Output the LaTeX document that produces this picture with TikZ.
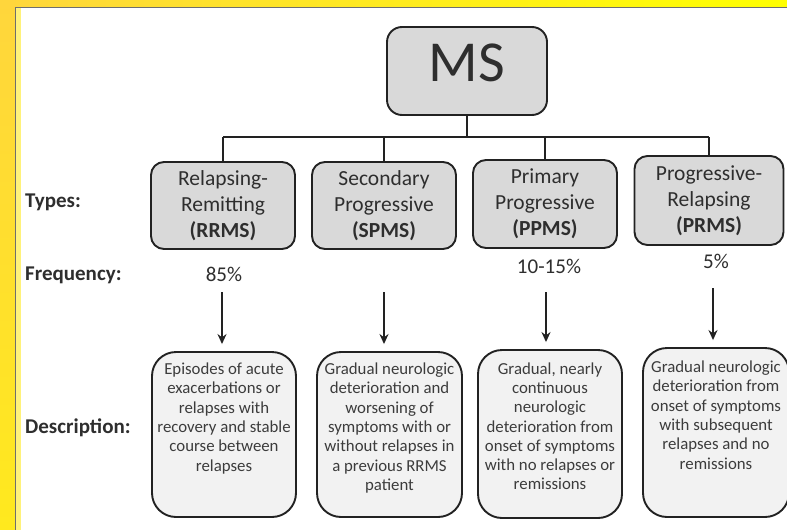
\documentclass[tikz,border=0pt]{standalone}
\usepackage{fontspec}
\setmainfont{Carlito}
\usetikzlibrary{arrows.meta}
\definecolor{typefill}{HTML}{D9D9D9}
\definecolor{descfill}{HTML}{F2F2F2}
\definecolor{edgec}{HTML}{222222}
\definecolor{textc}{HTML}{2E2E2E}
\definecolor{desctc}{HTML}{3C3C3C}
\definecolor{ylA}{HTML}{FFD63C}
\definecolor{ylB}{HTML}{FFFF00}
\definecolor{ylC}{HTML}{FFE91E}
\definecolor{ylL}{HTML}{FFF27A}
\definecolor{frameg}{HTML}{6E6E6E}
\tikzset{
  typebox/.style={draw=edgec, line width=1.9pt, fill=typefill, rounded corners=13pt,
    minimum width=144pt, minimum height=87pt, inner sep=0pt, align=center,
    text=textc, font=\fontsize{21.5}{26}\selectfont},
  msbox/.style={draw=edgec, line width=1.9pt, fill=typefill, rounded corners=15pt,
    minimum width=160pt, minimum height=88pt, inner sep=0pt, text=textc,
    font=\fontsize{58}{60}\selectfont, text depth=16pt},
  descbox/.style={draw=edgec, line width=1.9pt, fill=descfill, rounded corners=24pt,
    minimum height=165pt, inner sep=0pt, text=desctc},
  rowlabel/.style={anchor=base west, inner sep=0pt, text=textc,
    font=\fontsize{21}{26}\selectfont\bfseries},
  freq/.style={inner sep=0pt, text=textc, font=\fontsize{21}{26}\selectfont},
  link/.style={draw=edgec, line width=1.9pt},
  arr/.style={draw=edgec, line width=1.9pt, -{Stealth[length=10pt,width=9pt]}, shorten >=7pt}
}
\newcommand{\desctext}[1]{\parbox[c][143pt][t]{142pt}{\centering\fontsize{16.8}{19.3}\selectfont #1}}
\begin{document}
\begin{tikzpicture}[x=1pt,y=-1pt]
\useasboundingbox (0,0) rectangle (787,530);
% frame
\fill[white] (0,0) rectangle (787,530);
\shade[left color=ylA, right color=ylB] (0,0) rectangle (787,7.5);
\shade[top color=ylA, bottom color=ylC] (0,0) rectangle (15,530);
\fill[ylL] (16.3,8.3) rectangle (21,530);
\draw[frameg, line width=1.3pt] (15.6,530) -- (15.6,7.6) -- (787,7.6);

% top node
\node[msbox] (ms) at (467,71) {MS};

% type boxes
\node[typebox] (rrms) at (223,205.5) {Relapsing-\\Remitting\\\textbf{(RRMS)}};
\node[typebox] (spms) at (384,205.5) {Secondary\\Progressive\\\textbf{(SPMS)}};
\node[typebox, minimum height=88pt] (ppms) at (545,204) {Primary\\Progressive\\\textbf{(PPMS)}};
\node[typebox, minimum width=149pt, minimum height=89pt] (prms) at (709,200.5) {Progressive-\\Relapsing\\\textbf{(PRMS)}};

% tree connectors
\coordinate (bus) at (467,137);
\draw[link] (ms.south) -- (bus);
\draw[link] (rrms.north |- bus) -- (prms.north |- bus);
\foreach \n in {rrms,spms,ppms,prms}{
  \draw[link] (\n.north |- bus) -- (\n.north);
}

% row labels
\node[rowlabel] (ltypes) at (25,207) {Types:};
\node[rowlabel] (lfreq) at (25,280) {Frequency:};
\node[rowlabel] (ldesc) at (25,433) {Description:};

% frequencies
\node[freq] (f1) at (224,274) {85\%};
\node[freq] (f3) at (549,266) {10-15\%};
\node[freq] (f4) at (716,261) {5\%};

% description boxes
\node[descbox, minimum width=144pt] (d1) at (224,434.5) {\desctext{Episodes of acute\\exacerbations or\\relapses with\\recovery and stable\\course between\\relapses}};
\node[descbox, minimum width=145pt] (d2) at (389.5,434.5) {\desctext{Gradual neurologic\\deterioration and\\worsening of\\symptoms with or\\without relapses in\\a previous RRMS\\patient}};
\node[descbox, minimum width=144pt, minimum height=168pt] (d3) at (550,434) {\desctext{Gradual, nearly\\continuous\\neurologic\\deterioration from\\onset of symptoms\\with no relapses or\\remissions}};
\node[descbox, minimum width=146pt, minimum height=169pt] (d4) at (716,432.5) {\desctext{Gradual neurologic\\deterioration from\\onset of symptoms\\with subsequent\\relapses and no\\remissions}};

% arrows
\coordinate (a1) at (222,292);
\coordinate (a2) at (384,292);
\coordinate (a3) at (546,292);
\coordinate (a4) at (713,288);
\draw[arr] (a1) -- (a1 |- d1.north);
\draw[arr] (a2) -- (a2 |- d2.north);
\draw[arr] (a3) -- (a3 |- d3.north);
\draw[arr] (a4) -- (a4 |- d4.north);
\end{tikzpicture}
\end{document}
